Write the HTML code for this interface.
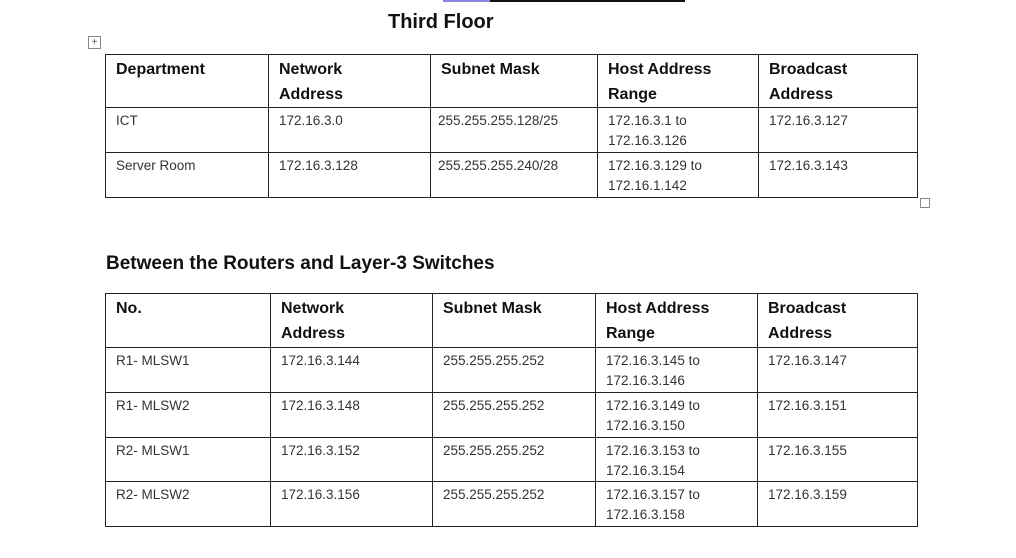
<!DOCTYPE html>
<html><head><meta charset="utf-8"><style>
body{margin:0;width:1016px;height:558px;background:#fff;position:relative;overflow:hidden;font-family:"Liberation Sans",sans-serif;color:#111}
.abs{position:absolute}
table{position:absolute;border-collapse:collapse;table-layout:fixed}
td{border:1.5px solid #222;vertical-align:top;padding:3px 0 0 10px;font-size:13.5px;line-height:20px;color:#333;box-sizing:border-box}
tr.h td{font-weight:bold;font-size:16px;line-height:25px;color:#111;padding-top:2px}
</style></head><body>
<div class="abs" style="left:443px;top:0;width:47px;height:2px;background:#8a86e0"></div>
<div class="abs" style="left:490px;top:0;width:195px;height:2px;background:#111"></div>
<div class="abs" style="left:388px;top:11px;font-size:20px;font-weight:bold">Third Floor</div>
<div class="abs" style="left:88px;top:36px;width:11px;height:11px;border:1px solid #888;font-size:10px;line-height:11px;text-align:center;color:#555">+</div>
<div class="abs" style="left:920px;top:198px;width:8px;height:8px;border:1px solid #888"></div>
<table style="left:105px;top:54px;width:812px">
<colgroup><col style="width:163px"><col style="width:162px"><col style="width:167px"><col style="width:161px"><col style="width:159px"></colgroup>
<tr class="h" style="height:53px"><td>Department</td><td>Network<br>Address</td><td>Subnet Mask</td><td>Host Address<br>Range</td><td>Broadcast<br>Address</td></tr>
<tr style="height:45px"><td>ICT</td><td>172.16.3.0</td><td style="padding-left:7px">255.255.255.128/25</td><td>172.16.3.1 to<br>172.16.3.126</td><td>172.16.3.127</td></tr>
<tr style="height:45px"><td>Server Room</td><td>172.16.3.128</td><td style="padding-left:7px">255.255.255.240/28</td><td>172.16.3.129 to<br>172.16.1.142</td><td>172.16.3.143</td></tr>
</table>
<div class="abs" style="left:106px;top:253px;font-size:19px;font-weight:bold">Between the Routers and Layer-3 Switches</div>
<table style="left:105px;top:293px;width:812px">
<colgroup><col style="width:165px"><col style="width:162px"><col style="width:163px"><col style="width:162px"><col style="width:160px"></colgroup>
<tr class="h" style="height:54px"><td>No.</td><td>Network<br>Address</td><td>Subnet Mask</td><td>Host Address<br>Range</td><td>Broadcast<br>Address</td></tr>
<tr style="height:45px"><td>R1- MLSW1</td><td>172.16.3.144</td><td>255.255.255.252</td><td>172.16.3.145 to<br>172.16.3.146</td><td>172.16.3.147</td></tr>
<tr style="height:45px"><td>R1- MLSW2</td><td>172.16.3.148</td><td>255.255.255.252</td><td>172.16.3.149 to<br>172.16.3.150</td><td>172.16.3.151</td></tr>
<tr style="height:44px"><td>R2- MLSW1</td><td>172.16.3.152</td><td>255.255.255.252</td><td>172.16.3.153 to<br>172.16.3.154</td><td>172.16.3.155</td></tr>
<tr style="height:45px"><td>R2- MLSW2</td><td>172.16.3.156</td><td>255.255.255.252</td><td>172.16.3.157 to<br>172.16.3.158</td><td>172.16.3.159</td></tr>
</table>
</body></html>
